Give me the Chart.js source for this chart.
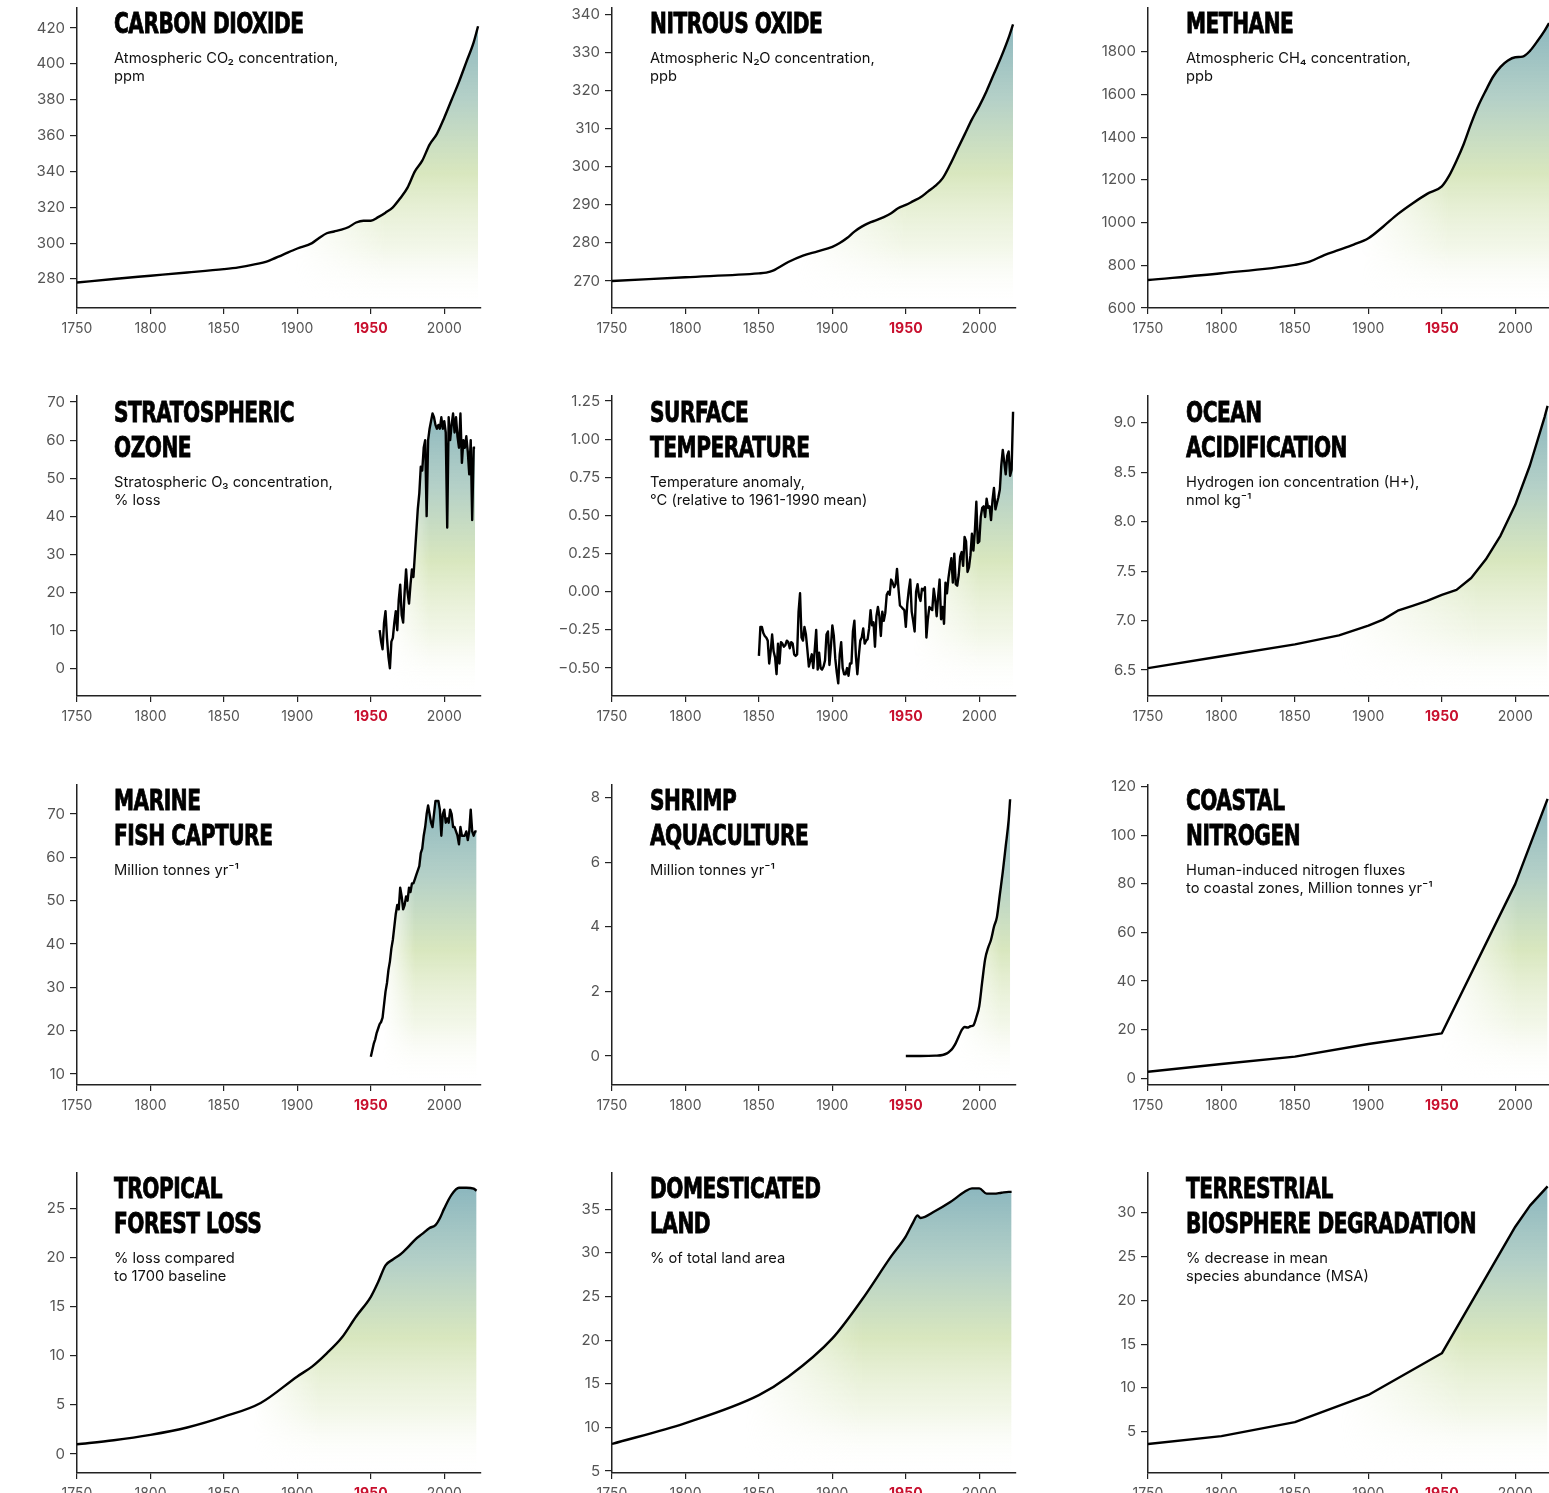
<!DOCTYPE html>
<html>
<head>
<meta charset="utf-8">
<title>Planetary indicators 1750-2023</title>
<script src="https://cdn.jsdelivr.net/npm/chart.js@4.4.1/dist/chart.umd.min.js"></script>
<style>
  body { margin: 0; width: 1549px; height: 1493px; overflow: hidden; background: #fff; position: relative; font-family: Inter, sans-serif; }
  canvas { position: absolute; }
  .title { position: absolute; font-family: 'Liberation Sans Narrow', 'DejaVu Sans Condensed', sans-serif; font-weight: 700; font-size: 28px; line-height: 35px; letter-spacing: -0.6px; -webkit-text-stroke: 0.8px #000; color: #000; white-space: nowrap; z-index: 2; transform: scaleX(0.8); transform-origin: 0 0; }
  .sub { position: absolute; font-family: Inter, sans-serif; font-size: 14.7px; line-height: 18px; color: #111; white-space: nowrap; z-index: 2; }
</style>
</head>
<body>
<script>
// ========================
// DATA
// ========================
const xTickYears = [1750, 1800, 1850, 1900, 1950, 2000];
const highlightYear = 1950;

const co2Years  = [1750, 1775, 1800, 1825, 1850, 1860, 1870, 1880, 1890, 1900, 1910, 1915, 1920, 1925, 1930, 1935, 1940, 1945, 1950, 1955, 1960, 1965, 1970, 1975, 1980, 1985, 1990, 1995, 2000, 2005, 2010, 2015, 2020, 2023];
const co2Values = [278, 280, 281.8, 283.6, 285.5, 286.5, 288, 290, 293.5, 297, 300, 303, 305.5, 306.5, 307.5, 309, 311.5, 312.5, 312.5, 314.5, 317, 320, 325, 331, 340, 346, 355, 361, 370, 380, 390, 401, 412, 421];
const co2Ticks  = [280, 300, 320, 340, 360, 380, 400, 420];

const n2oYears  = [1750, 1800, 1850, 1855, 1860, 1870, 1880, 1890, 1900, 1905, 1910, 1915, 1920, 1925, 1930, 1935, 1940, 1945, 1950, 1955, 1960, 1965, 1970, 1975, 1980, 1985, 1990, 1995, 2000, 2005, 2010, 2015, 2020, 2023];
const n2oValues = [270, 271, 272, 272.2, 272.8, 275, 276.7, 277.8, 279, 280, 281.3, 283, 284.3, 285.3, 286, 286.8, 287.8, 289.2, 290, 291, 292, 293.5, 295, 297, 300.5, 304.5, 308.5, 312.5, 316, 320, 324.5, 329, 334, 337.5];
const n2oTicks  = [270, 280, 290, 300, 310, 320, 330, 340];

const ch4Years  = [1750, 1800, 1850, 1860, 1870, 1880, 1890, 1900, 1910, 1920, 1930, 1940, 1950, 1955, 1960, 1965, 1970, 1975, 1980, 1985, 1990, 1995, 2000, 2005, 2010, 2015, 2020, 2023];
const ch4Values = [731, 763, 802, 817, 848, 872, 897, 927, 981, 1040, 1090, 1135, 1170, 1220, 1290, 1370, 1465, 1550, 1620, 1685, 1730, 1760, 1775, 1778, 1805, 1850, 1900, 1935];
const ch4Ticks  = [600, 800, 1000, 1200, 1400, 1600, 1800];

const ozoneStart  = 1956;
const ozoneValues = [10, 7, 5, 12, 15, 8, 3, 0, 7, 8,
                     12, 15, 10, 18, 22, 14, 12, 20, 26, 20,
                     17, 22, 26, 24, 30, 36, 42, 46, 53, 52,
                     58, 60, 40, 60, 63, 65, 67, 66, 64, 63,
                     64, 63, 66, 63, 65, 62, 37, 66, 60, 64,
                     67, 62, 66, 61, 58, 67, 54, 60, 58, 61,
                     57, 51, 60, 39, 58, 58];
const ozoneTicks  = [0, 10, 20, 30, 40, 50, 60, 70];

const tempStart  = 1850;
const tempValues = [-0.42, -0.23, -0.23, -0.27, -0.29, -0.30, -0.32, -0.47, -0.39, -0.28,
                    -0.39, -0.43, -0.54, -0.34, -0.47, -0.33, -0.34, -0.36, -0.35, -0.32,
                    -0.33, -0.37, -0.33, -0.34, -0.41, -0.42, -0.41, -0.13, -0.01, -0.30,
                    -0.32, -0.23, -0.28, -0.38, -0.49, -0.45, -0.41, -0.50, -0.38, -0.25,
                    -0.51, -0.40, -0.50, -0.51, -0.49, -0.45, -0.28, -0.26, -0.48, -0.36,
                    -0.22, -0.29, -0.44, -0.53, -0.60, -0.41, -0.33, -0.50, -0.54, -0.54,
                    -0.50, -0.55, -0.47, -0.47, -0.26, -0.19, -0.42, -0.54, -0.42, -0.32,
                    -0.30, -0.24, -0.34, -0.32, -0.31, -0.24, -0.12, -0.22, -0.20, -0.36,
                    -0.16, -0.10, -0.16, -0.29, -0.13, -0.19, -0.14, -0.02, 0.00, -0.02,
                    0.08, 0.06, 0.03, 0.05, 0.15, 0.02, -0.09, -0.10, -0.11, -0.12,
                    -0.23, -0.08, 0.01, 0.08, -0.13, -0.19, -0.26, 0.00, 0.05, -0.03,
                    -0.06, 0.02, 0.01, 0.03, -0.30, -0.18, -0.10, -0.11, -0.12, 0.02,
                    -0.05, -0.16, -0.03, 0.08, -0.18, -0.10, -0.21, 0.06, -0.01, 0.09,
                    0.16, 0.22, 0.06, 0.25, 0.05, 0.04, 0.11, 0.23, 0.26, 0.17,
                    0.36, 0.33, 0.13, 0.16, 0.24, 0.38, 0.27, 0.40, 0.59, 0.32,
                    0.33, 0.49, 0.55, 0.56, 0.49, 0.61, 0.55, 0.56, 0.47, 0.60,
                    0.68, 0.54, 0.58, 0.62, 0.67, 0.83, 0.93, 0.85, 0.77, 0.89,
                    0.92, 0.76, 0.80, 1.18];
const tempTicks  = [-0.5, -0.25, 0, 0.25, 0.5, 0.75, 1.0, 1.25];

const oceanYears  = [1750, 1800, 1850, 1880, 1900, 1910, 1920, 1930, 1940, 1950, 1960, 1970, 1980, 1990, 2000, 2010, 2020, 2022];
const oceanValues = [6.52, 6.64, 6.76, 6.85, 6.95, 7.01, 7.10, 7.15, 7.20, 7.26, 7.31, 7.43, 7.62, 7.86, 8.17, 8.57, 9.06, 9.17];
const oceanTicks  = [6.5, 7.0, 7.5, 8.0, 8.5, 9.0];

const fishStart  = 1950;
const fishValues = [14, 15.5, 17, 18, 19.5, 20.5, 21.5, 22, 23, 26,
                    29, 31, 34, 36, 39, 41, 44, 47, 49, 48,
                    53, 51, 48, 49, 51, 50, 53, 52, 54, 54,
                    55, 56, 57, 58, 61, 62, 65, 67, 70, 72,
                    70, 68, 67, 70, 73, 73, 73, 71, 65, 70,
                    71, 68, 69, 68, 71, 70, 67, 67, 66, 65,
                    63, 67, 65, 65, 65, 66, 64, 66, 71, 66,
                    65, 66, 66];
const fishTicks  = [10, 20, 30, 40, 50, 60, 70];

const shrimpYears  = [1950, 1960, 1970, 1975, 1978, 1980, 1982, 1984, 1986, 1988, 1990, 1992, 1994, 1996, 1998, 2000, 2002, 2004, 2006, 2008, 2010, 2012, 2014, 2016, 2018, 2020, 2021];
const shrimpValues = [0, 0, 0.01, 0.03, 0.08, 0.15, 0.25, 0.4, 0.6, 0.8, 0.9, 0.88, 0.92, 0.95, 1.2, 1.55, 2.3, 3.0, 3.35, 3.6, 4.0, 4.3, 5.0, 5.7, 6.5, 7.3, 7.95];
const shrimpTicks  = [0, 2, 4, 6, 8];

const nitrogenYears  = [1750, 1800, 1850, 1900, 1950, 2000, 2022];
const nitrogenValues = [2.7, 5.9, 8.9, 14.1, 18.5, 80, 115];
const nitrogenTicks  = [0, 20, 40, 60, 80, 100, 120];

const forestYears  = [1750, 1775, 1800, 1825, 1850, 1875, 1900, 1910, 1920, 1930, 1940, 1950, 1955, 1960, 1965, 1970, 1975, 1980, 1985, 1990, 1994, 1997, 2000, 2005, 2010, 2015, 2020, 2022];
const forestValues = [1.0, 1.4, 1.95, 2.7, 3.8, 5.2, 7.9, 8.9, 10.25, 11.8, 14.0, 16.0, 17.5, 19.2, 19.8, 20.3, 21.0, 21.8, 22.4, 23.0, 23.3, 24.0, 25.0, 26.4, 27.1, 27.1, 27.0, 26.8];
const forestTicks  = [0, 5, 10, 15, 20, 25];

const landYears  = [1750, 1800, 1850, 1870, 1900, 1920, 1940, 1950, 1955, 1958, 1960, 1970, 1980, 1990, 1995, 2000, 2005, 2010, 2015, 2020, 2022];
const landValues = [8.1, 10.5, 13.7, 15.8, 20.2, 24.6, 29.6, 31.9, 33.5, 34.3, 34.0, 34.8, 35.8, 37.0, 37.4, 37.4, 36.8, 36.8, 36.9, 37.0, 37.0];
const landTicks  = [5, 10, 15, 20, 25, 30, 35];

const bioYears  = [1750, 1800, 1850, 1900, 1950, 2000, 2010, 2022];
const bioValues = [3.6, 4.5, 6.1, 9.2, 13.95, 28.4, 30.8, 33.0];
const bioTicks  = [5, 10, 15, 20, 25, 30];

function yearsFrom(start, values) {
  return values.map((_, i) => start + i);
}

// ========================
// PANELS (layout + style)
// ========================
const panels = [
  { col: 0, row: 0, years: co2Years, values: co2Values, ticks: co2Ticks, min: 263.8, max: 431.2, dec: 0, smooth: true, fade: [1898, 1960],
    title: ['CARBON DIOXIDE'], sub: ['Atmospheric CO₂ concentration,', 'ppm'] },
  { col: 1, row: 0, years: n2oYears, values: n2oValues, ticks: n2oTicks, min: 262.9, max: 341.8, dec: 0, smooth: true, fade: [1875, 1950],
    title: ['NITROUS OXIDE'], sub: ['Atmospheric N₂O concentration,', 'ppb'] },
  { col: 2, row: 0, years: ch4Years, values: ch4Values, ticks: ch4Ticks, min: 600, max: 2006, dec: 0, smooth: true, fade: [1895, 1955],
    title: ['METHANE'], sub: ['Atmospheric CH₄ concentration,', 'ppb'] },
  { col: 0, row: 1, years: yearsFrom(ozoneStart, ozoneValues), values: ozoneValues, ticks: ozoneTicks, min: -7.3, max: 71.6, dec: 0, smooth: false, fade: [1962, 1990],
    title: ['STRATOSPHERIC', 'OZONE'], sub: ['Stratospheric O₃ concentration,', '% loss'] },
  { col: 1, row: 1, years: yearsFrom(tempStart, tempValues), values: tempValues, ticks: tempTicks, min: -0.683, max: 1.283, dec: 2, smooth: false, fade: [1955, 2000],
    title: ['SURFACE', 'TEMPERATURE'], sub: ['Temperature anomaly,', '°C (relative to 1961-1990 mean)'] },
  { col: 2, row: 1, years: oceanYears, values: oceanValues, ticks: oceanTicks, min: 6.238, max: 9.27, dec: 1, smooth: false, fade: [1880, 1975],
    title: ['OCEAN', 'ACIDIFICATION'], sub: ['Hydrogen ion concentration (H+),', 'nmol kg⁻¹'] },
  { col: 0, row: 2, years: yearsFrom(fishStart, fishValues), values: fishValues, ticks: fishTicks, min: 7.46, max: 76.7, dec: 0, smooth: false, fade: [1958, 1980],
    title: ['MARINE', 'FISH CAPTURE'], sub: ['Million tonnes yr⁻¹'] },
  { col: 1, row: 2, years: shrimpYears, values: shrimpValues, ticks: shrimpTicks, min: -0.898, max: 8.39, dec: 0, smooth: true, fade: [1985, 2015],
    title: ['SHRIMP', 'AQUACULTURE'], sub: ['Million tonnes yr⁻¹'] },
  { col: 2, row: 2, years: nitrogenYears, values: nitrogenValues, ticks: nitrogenTicks, min: -2.76, max: 120.7, dec: 0, smooth: false, fade: [1950, 2002],
    title: ['COASTAL', 'NITROGEN'], sub: ['Human-induced nitrogen fluxes', 'to coastal zones, Million tonnes yr⁻¹'] },
  { col: 0, row: 3, years: forestYears, values: forestValues, ticks: forestTicks, min: -1.93, max: 28.6, dec: 0, smooth: true, fade: [1870, 1915],
    title: ['TROPICAL', 'FOREST LOSS'], sub: ['% loss compared', 'to 1700 baseline'] },
  { col: 1, row: 3, years: landYears, values: landValues, ticks: landTicks, min: 4.77, max: 39.16, dec: 0, smooth: true, fade: [1840, 1920],
    title: ['DOMESTICATED', 'LAND'], sub: ['% of total land area'] },
  { col: 2, row: 3, years: bioYears, values: bioValues, ticks: bioTicks, min: 0.29, max: 34.53, dec: 0, smooth: false, fade: [1880, 1965],
    title: ['TERRESTRIAL', 'BIOSPHERE DEGRADATION'], sub: ['% decrease in mean', 'species abundance (MSA)'] }
];

const colAxisX = [77, 612, 1148];
const rowTop = [8, 396, 785, 1173];
const titleX = [114, 650, 1186];
const rowTitleY = [23, 412, 800, 1188];
const PLOT_W = 404, PLOT_H = 300, PAD_TOP = 12, PAD_RIGHT = 14, Y_AXIS_W = 70, X_AXIS_H = 40;

Chart.defaults.font.family = 'Inter, sans-serif';

// fill: vertical teal -> green -> white, faded in from the left
const patternCache = new WeakMap();
function fillPattern(chart, p) {
  const area = chart.chartArea;
  if (!area) return 'rgba(0,0,0,0)';
  if (patternCache.has(chart)) return patternCache.get(chart);
  const off = document.createElement('canvas');
  off.width = chart.width;
  off.height = chart.height;
  const g = off.getContext('2d');
  const v = g.createLinearGradient(0, area.top, 0, area.bottom);
  v.addColorStop(0, 'rgba(100,158,172,0.8)');
  v.addColorStop(0.3, 'rgba(148,188,176,0.7)');
  v.addColorStop(0.55, 'rgba(196,218,156,0.65)');
  v.addColorStop(0.8, 'rgba(224,235,200,0.4)');
  v.addColorStop(1, 'rgba(255,255,255,0)');
  g.fillStyle = v;
  g.fillRect(0, 0, off.width, off.height);
  g.globalCompositeOperation = 'destination-in';
  const xs = chart.scales.x;
  const h = g.createLinearGradient(xs.getPixelForValue(p.fade[0]), 0, xs.getPixelForValue(p.fade[1]), 0);
  h.addColorStop(0, 'rgba(0,0,0,0)');
  h.addColorStop(1, 'rgba(0,0,0,1)');
  g.fillStyle = h;
  g.fillRect(0, 0, off.width, off.height);
  const pat = chart.ctx.createPattern(off, 'no-repeat');
  patternCache.set(chart, pat);
  return pat;
}

function fmtY(v, dec) {
  return v.toFixed(dec).replace('-', '\u2212');
}

function makePanel(p) {
  const canvas = document.createElement('canvas');
  canvas.width = Y_AXIS_W + PLOT_W + PAD_RIGHT;
  canvas.height = PAD_TOP + PLOT_H + X_AXIS_H;
  canvas.style.left = (colAxisX[p.col] - Y_AXIS_W) + 'px';
  canvas.style.top = (rowTop[p.row] - PAD_TOP) + 'px';
  document.body.appendChild(canvas);

  new Chart(canvas.getContext('2d'), {
    type: 'line',
    data: {
      datasets: [{
        data: p.years.map((yr, i) => ({ x: yr, y: p.values[i] })),
        borderColor: '#000',
        borderWidth: 2.4,
        borderJoinStyle: 'round',
        pointRadius: 0,
        cubicInterpolationMode: p.smooth ? 'monotone' : 'default',
        tension: 0,
        fill: 'start',
        backgroundColor: ctx => fillPattern(ctx.chart, p)
      }]
    },
    options: {
      responsive: false,
      animation: false,
      devicePixelRatio: 1,
      layout: { padding: { top: PAD_TOP, right: PAD_RIGHT, left: 0, bottom: 0 } },
      plugins: { legend: { display: false }, tooltip: { enabled: false } },
      scales: {
        x: {
          type: 'linear', min: 1750, max: 2025,
          afterBuildTicks: s => { s.ticks = xTickYears.map(v => ({ value: v })); },
          afterFit: s => { s.height = X_AXIS_H; s.paddingLeft = 0; s.paddingRight = 0; },
          border: { color: '#222', width: 1.5 },
          grid: { drawOnChartArea: false, tickLength: 6, color: '#222', lineWidth: 1.2 },
          ticks: {
            padding: 6,
            maxRotation: 0,
            callback: v => String(v),
            color: ctx => ctx.tick && ctx.tick.value === highlightYear ? '#c8102e' : '#555',
            font: ctx => ctx.tick && ctx.tick.value === highlightYear
              ? { size: 14, weight: 'bold', family: 'Inter, sans-serif' }
              : { size: 14, family: 'Inter, sans-serif' }
          }
        },
        y: {
          type: 'linear', min: p.min, max: p.max,
          afterBuildTicks: s => { s.ticks = p.ticks.map(v => ({ value: v })); },
          afterFit: s => { s.width = Y_AXIS_W; s.paddingTop = 0; s.paddingBottom = 0; },
          border: { color: '#222', width: 1.5 },
          grid: { drawOnChartArea: false, tickLength: 7, color: '#222', lineWidth: 1.2 },
          ticks: {
            padding: 5,
            color: '#555',
            font: { size: 15 },
            callback: v => fmtY(v, p.dec)
          }
        }
      }
    }
  });

  // title + subtitle as real text
  const t = document.createElement('div');
  t.className = 'title';
  t.innerHTML = p.title.join('<br>');
  t.style.left = titleX[p.col] + 'px';
  t.style.top = (rowTitleY[p.row] - 17.5) + 'px';
  document.body.appendChild(t);

  const s = document.createElement('div');
  s.className = 'sub';
  s.innerHTML = p.sub.join('<br>');
  s.style.left = titleX[p.col] + 'px';
  s.style.top = (rowTitleY[p.row] + (p.title.length - 1) * 35 + 34.5 - 9) + 'px';
  document.body.appendChild(s);
}

panels.forEach(makePanel);
</script>
</body>
</html>
